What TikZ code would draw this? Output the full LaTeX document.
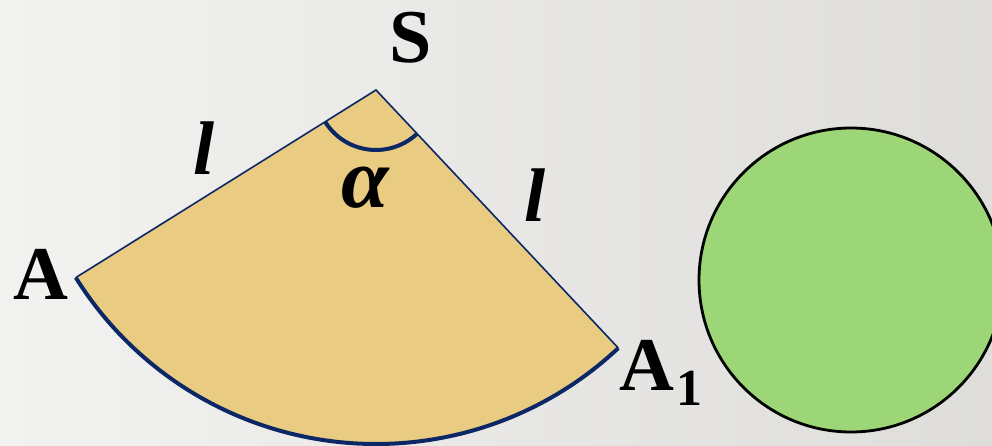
\documentclass[tikz,border=0pt]{standalone}
\usepackage{fontspec}
\setmainfont{Liberation Serif}
\usetikzlibrary{calc}
\begin{document}
\begin{tikzpicture}[x=1pt,y=-1pt,
  lbl/.style={inner sep=0pt,font=\fontsize{76}{80}\selectfont\bfseries},
  ilbl/.style={inner sep=0pt,font=\fontsize{76}{80}\selectfont\bfseries\itshape},
  side/.style={draw=navy,line width=1.6pt},
  bigarc/.style={draw=navy,line width=4pt},
  anglemark/.style={draw=navy,line width=4pt}]
\definecolor{navy}{HTML}{0B2766}
\definecolor{sectfill}{HTML}{E9CC82}
\definecolor{circfill}{HTML}{9CD677}
\definecolor{bgl}{HTML}{F2F2F1}
\definecolor{bgr}{HTML}{DEDDDA}
\useasboundingbox (0,0) rectangle (992,446);
\shade[left color=bgl,right color=bgr] (0,0) rectangle (992,446);
\coordinate (S) at (376,90);
\coordinate (A) at ($(S)+(148:354)$);
\coordinate (A1) at ($(S)+(46.8:354)$);
\fill[sectfill] (S) -- (A) arc[start angle=148,end angle=46.8,radius=354] -- cycle;
\draw[side] (A) -- (S) -- (A1);
\draw[bigarc] (A) arc[start angle=148,end angle=46.8,radius=354];
\draw[anglemark] ($(S)+(148:60)$) arc[start angle=148,end angle=46.8,radius=60];
\path[draw=black,line width=2.8pt,fill=circfill] (851,280) circle[radius=152];
\node[lbl] (Slbl) at (411,38) {S};
\node[lbl] (Albl) at (41,274) {A};
\node[lbl,anchor=base west] (A1lbl) at (619,390) {A\kern2pt\raisebox{-15pt}{\fontsize{52}{54}\selectfont 1}};
\node[ilbl] (l1) at (204,148) {l};
\node[ilbl] (l2) at (535,195) {l};
\node[ilbl,font=\fontsize{86}{90}\selectfont\bfseries\itshape] (alpha) at (365,188) {α};
\end{tikzpicture}
\end{document}
